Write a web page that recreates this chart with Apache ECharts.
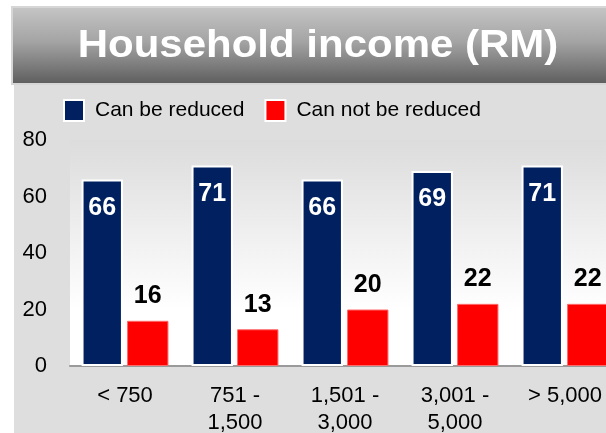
<!DOCTYPE html>
<html>
<head>
<meta charset="utf-8">
<script src="https://cdn.jsdelivr.net/npm/echarts@6/dist/echarts.min.js"></script>
<style>
html,body{margin:0;padding:0;background:#ffffff;}
#chart{width:606px;height:433px;}
</style>
</head>
<body>
<div id="chart"></div>
<script>
var titleText = 'Household income (RM)';
var categories = ['< 750', '751 -\n1,500', '1,501 -\n3,000', '3,001 -\n5,000', '> 5,000'];
var seriesNames = ['Can be reduced', 'Can not be reduced'];
var canBeReduced = [66, 71, 66, 69, 71];
var canNotBeReduced = [16, 13, 20, 22, 22];
var yTicks = [0, 20, 40, 60, 80];

var FONT = '"Liberation Sans", Arial, sans-serif';
var chart = echarts.init(document.getElementById('chart'), null, {renderer: 'canvas'});

chart.setOption({
  animation: false,
  backgroundColor: '#ffffff',
  graphic: [
    {type: 'rect', z: -10, shape: {x: 14, y: 84, width: 600, height: 360}, style: {fill: '#dedede'}},
    {type: 'rect', z: -9, shape: {x: 12, y: 7, width: 600, height: 77},
      style: {
        fill: new echarts.graphic.LinearGradient(0, 0, 0, 1, [
          {offset: 0, color: '#c6c6c6'},
          {offset: 0.45, color: '#a4a4a4'},
          {offset: 1, color: '#5c5c5c'}
        ]),
        stroke: '#d6d6d6', lineWidth: 2
      }
    },
    {type: 'text', z: 10, x: 318, y: 46, scaleY: 0.92,
      style: {text: titleText, fill: '#ffffff', font: 'bold 42px ' + FONT, textAlign: 'center', textVerticalAlign: 'middle'}
    }
  ],
  legend: {
    left: 63, top: 99, padding: 0,
    itemWidth: 20, itemHeight: 21,
    itemGap: 20,
    icon: 'rect',
    itemStyle: {borderColor: '#ffffff', borderWidth: 2},
    textStyle: {fontFamily: FONT, fontSize: 21, color: '#000000', padding: [6, 0, 0, 6]},
    data: seriesNames
  },
  grid: {
    left: 70, top: 140, width: 550, height: 226,
    outerBoundsMode: 'none', containLabel: false,
    show: true, borderWidth: 0,
    backgroundColor: new echarts.graphic.LinearGradient(0, 0, 0, 1, [
      {offset: 0, color: '#dcdcdc'},
      {offset: 0.75, color: '#ffffff'},
      {offset: 1, color: '#ffffff'}
    ])
  },
  xAxis: {
    type: 'category',
    data: categories,
    axisLine: {show: true, lineStyle: {color: '#9a9a9a', width: 2}},
    axisTick: {show: false},
    axisLabel: {fontFamily: FONT, fontSize: 22, color: '#000000', margin: 16, lineHeight: 27, interval: 0}
  },
  yAxis: {
    type: 'value',
    min: 0, max: 80, interval: 20,
    axisLine: {show: false},
    axisTick: {show: false},
    splitLine: {show: false},
    axisLabel: {fontFamily: FONT, fontSize: 22, color: '#000000', margin: 23,
      formatter: function (v) { return yTicks.indexOf(v) >= 0 ? String(v) : ''; }}
  },
  series: [
    {
      name: seriesNames[0], type: 'bar', data: canBeReduced,
      barGap: '10%', barCategoryGap: '21%',
      itemStyle: {color: '#002060', borderColor: '#ffffff', borderWidth: 2},
      label: {show: true, position: 'insideTop', distance: 16, color: '#ffffff',
        fontFamily: FONT, fontSize: 25, fontWeight: 'bold'}
    },
    {
      name: seriesNames[1], type: 'bar', data: canNotBeReduced,
      barGap: '10%', barCategoryGap: '21%',
      itemStyle: {color: '#ff0000', borderColor: '#ff6a6a', borderWidth: 1},
      label: {show: true, position: 'top', distance: 12, color: '#000000',
        fontFamily: FONT, fontSize: 25, fontWeight: 'bold'}
    }
  ]
});
</script>
</body>
</html>
